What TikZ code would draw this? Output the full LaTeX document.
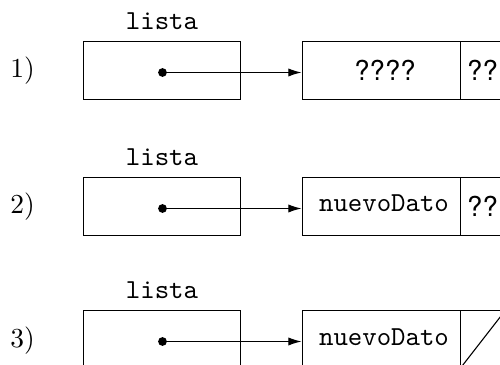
\documentclass[tikz,border=0pt]{standalone}
\usepackage{fontspec}
\newfontfamily\helv{TeX Gyre Heros}
\usetikzlibrary{arrows.meta}
\tikzset{
  cell/.style={draw, line width=0.4pt, inner sep=0pt, anchor=north west,
    minimum height=21.2pt},
  ptrcell/.style={cell, minimum width=57.3pt},
  datacell/.style={cell, minimum width=57.6pt},
  nextcell/.style={cell, minimum width=16.4pt},
  varname/.style={anchor=base, inner sep=0pt, font=\ttfamily},
  steplabel/.style={inner sep=0pt},
  dot/.style={circle, fill, inner sep=0pt, minimum size=3.2pt},
  link/.style={-{Latex[length=4.8pt,width=3pt]}, line width=0.4pt},
  qmark/.style={inner sep=0pt, font=\helv},
}
\begin{document}
\begin{tikzpicture}[x=0.364pt, y=-0.364pt]
  \useasboundingbox (0,0) rectangle (500,365);
  \clip (0,0) rectangle (500,365);

  % Step 1: pointer to an uninitialised node
  \node[steplabel] (n1) at (22.5,71) {1)};
  \node[varname] (v1) at (162,29.5) {lista};
  \node[ptrcell] (p1) at (82.5,41) {};
  \node[dot] (d1) at (162.5,72.5) {};
  \node[datacell] (a1) at (301.5,41) {};
  \node[nextcell] (b1) at (459.5,41) {};
  \node[qmark] at (385,70) {????};
  \node[qmark] at (482.5,70) {??};
  \draw[link] (d1.center) -- (d1.center -| a1.west);

  % Step 2: data field filled in
  \node[steplabel] (n2) at (22.5,207) {2)};
  \node[varname] (v2) at (162,165.7) {lista};
  \node[ptrcell] (p2) at (82.5,177) {};
  \node[dot] (d2) at (162.5,208.5) {};
  \node[datacell] (a2) at (301.5,177) {};
  \node[nextcell] (b2) at (459.5,177) {};
  \node[varname] at (384,212) {nuevoDato};
  \node[qmark] at (482.5,206) {??};
  \draw[link] (d2.center) -- (d2.center -| a2.west);

  % Step 3: next field set to null
  \node[steplabel] (n3) at (22.5,341) {3)};
  \node[varname] (v3) at (162,298.5) {lista};
  \node[ptrcell] (p3) at (82.5,310) {};
  \node[dot] (d3) at (162.5,341.5) {};
  \node[datacell] (a3) at (301.5,310) {};
  \node[nextcell] (b3) at (459.5,310) {};
  \node[varname] at (384,345.5) {nuevoDato};
  \draw[link] (d3.center) -- (d3.center -| a3.west);
  \draw[line width=0.4pt] (b3.south west) -- (b3.north east);
\end{tikzpicture}
\end{document}
